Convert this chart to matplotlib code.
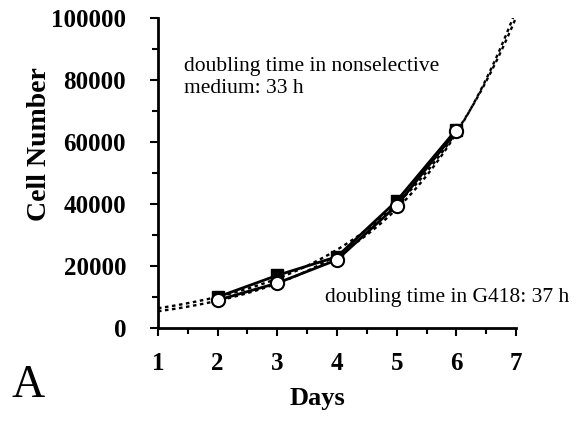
import numpy as np
import matplotlib
matplotlib.use('Agg')
import matplotlib.pyplot as plt
from matplotlib.ticker import MultipleLocator

plt.rc('font', family='Liberation Serif')

# measured cell numbers
days = [2, 3, 4, 5, 6]
nonselective = [10000, 17000, 23000, 41000, 64000]
g418 = [9000, 14500, 22000, 39500, 63500]

fig, ax = plt.subplots(figsize=(5.84, 4.26), dpi=100)
fig.subplots_adjust(left=0.2705, right=0.8836, bottom=0.23, top=0.9577)

# exponential fits (log-linear regression), dotted
xfit = np.linspace(1, 7.1, 200)
for y in (nonselective, g418):
	k, b = np.polyfit(days, np.log(y), 1)
	ax.plot(xfit, np.exp(b + k * xfit), color='black', linestyle=(0, (1.5, 1.5)), lw=1.7, clip_on=True)

ax.plot(days, nonselective, color='black', lw=2, marker='s', ms=8.5, mfc='black', mec='black')
ax.plot(days, g418, color='black', lw=2, marker='o', ms=9.5, mfc='white', mec='black', mew=1.5)

ax.set_xlim(1, 7)
ax.set_ylim(0, 100000)
ax.xaxis.set_major_locator(MultipleLocator(1))
ax.xaxis.set_minor_locator(MultipleLocator(0.5))
ax.yaxis.set_major_locator(MultipleLocator(20000))
ax.yaxis.set_minor_locator(MultipleLocator(10000))

for s in ('top', 'right'):
	ax.spines[s].set_visible(False)
for s in ('left', 'bottom'):
	ax.spines[s].set_linewidth(2)
ax.tick_params(which='major', direction='out', length=6, width=1.5, labelsize=18)
ax.tick_params(which='minor', direction='out', length=4, width=1.5)
ax.tick_params(axis='y', which='major', pad=17)
ax.tick_params(axis='x', which='major', pad=11)
for lab in ax.get_xticklabels() + ax.get_yticklabels():
	lab.set_fontweight('bold')

ax.set_xlabel('Days', fontsize=19, fontweight='bold')
ax.xaxis.set_label_coords(0.444, -0.19)
ax.set_ylabel('Cell Number', fontsize=20, fontweight='bold')
ax.yaxis.set_label_coords(-0.296, 0.594)

ax.text(1.44, 87500, 'doubling time in nonselective\nmedium: 33 h', fontsize=15.5,
	va='top', ha='left', linespacing=1.2)
ax.text(3.8, 10000, 'doubling time in G418: 37 h', fontsize=15.5, va='center', ha='left')
fig.text(0.02, 0.068, 'A', fontsize=33)

fig.savefig('out.png', dpi=100)
